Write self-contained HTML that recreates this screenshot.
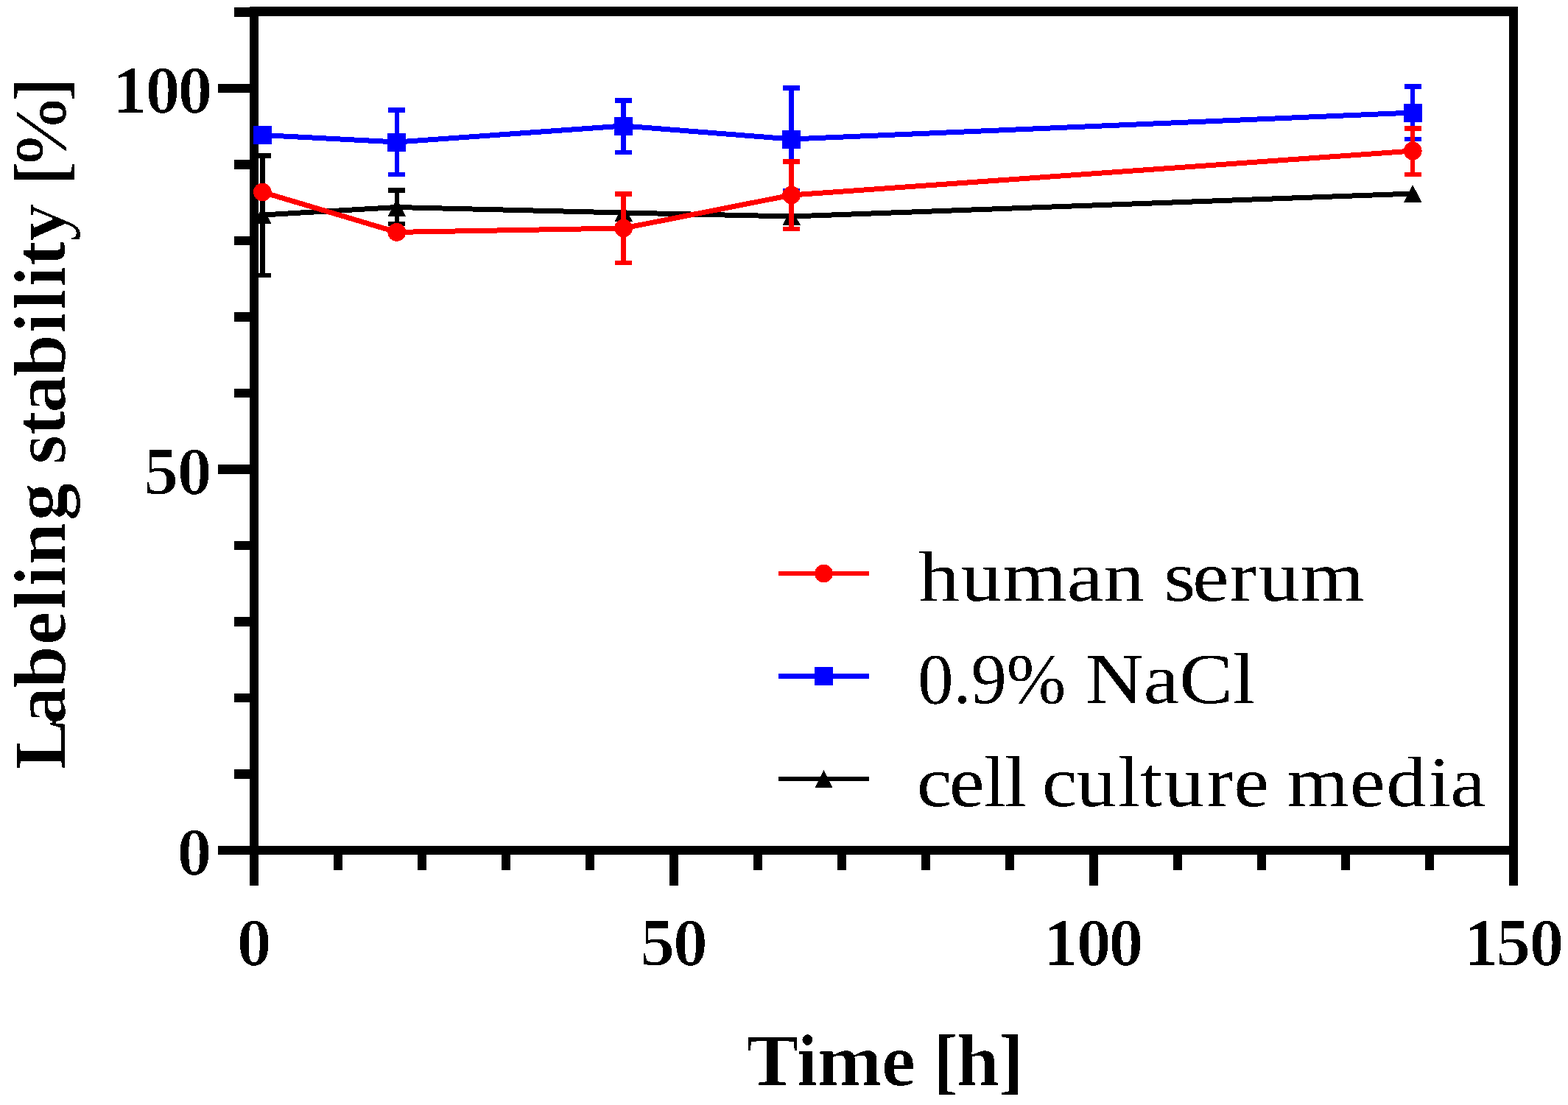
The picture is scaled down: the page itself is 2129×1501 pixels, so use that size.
<!DOCTYPE html>
<html lang="en"><head><meta charset="utf-8"><title>Labeling stability over time</title>
<style>
html,body{margin:0;padding:0;background:#fff;}
body{width:2129px;height:1501px;overflow:hidden;}
svg{display:block;}
text{font-family:"Liberation Serif","DejaVu Serif",serif;fill:#000;}
.b{font-weight:bold;}
</style></head><body>
<svg width="2129" height="1501" viewBox="0 0 2129 1501">
<defs>
<filter id="eh" x="-5%" y="-30%" width="110%" height="160%" color-interpolation-filters="sRGB"><feMorphology operator="erode" radius="1 0"/><feComponentTransfer><feFuncA type="discrete" tableValues="0 1"/></feComponentTransfer></filter>
<filter id="ev" x="-30%" y="-5%" width="160%" height="110%" color-interpolation-filters="sRGB"><feMorphology operator="erode" radius="0 1"/><feComponentTransfer><feFuncA type="discrete" tableValues="0 1"/></feComponentTransfer></filter>
<filter id="th" x="-5%" y="-30%" width="110%" height="160%" color-interpolation-filters="sRGB"><feComponentTransfer><feFuncA type="discrete" tableValues="0 1"/></feComponentTransfer></filter>
</defs>
<rect x="0" y="0" width="2129" height="1501" fill="#fff"/>
<g fill="#000" shape-rendering="crispEdges">
<rect x="339" y="9" width="12" height="1194"/>
<rect x="2049" y="9" width="12" height="1194"/>
<rect x="339" y="9" width="1722" height="13"/>
<rect x="296" y="1149" width="1765" height="12"/>
<rect x="318" y="1045" width="22" height="13"/>
<rect x="318" y="942" width="22" height="12"/>
<rect x="318" y="838" width="22" height="13"/>
<rect x="318" y="735" width="22" height="12"/>
<rect x="296" y="631" width="44" height="13"/>
<rect x="318" y="528" width="22" height="12"/>
<rect x="318" y="424" width="22" height="13"/>
<rect x="318" y="321" width="22" height="12"/>
<rect x="318" y="217" width="22" height="13"/>
<rect x="296" y="114" width="44" height="12"/>
<rect x="318" y="10" width="22" height="13"/>
<rect x="453" y="1160" width="12" height="22"/>
<rect x="567" y="1160" width="12" height="22"/>
<rect x="681" y="1160" width="12" height="22"/>
<rect x="795" y="1160" width="12" height="22"/>
<rect x="909" y="1160" width="12" height="43"/>
<rect x="1023" y="1160" width="12" height="22"/>
<rect x="1137" y="1160" width="12" height="22"/>
<rect x="1251" y="1160" width="12" height="22"/>
<rect x="1365" y="1160" width="12" height="22"/>
<rect x="1479" y="1160" width="12" height="43"/>
<rect x="1593" y="1160" width="12" height="22"/>
<rect x="1707" y="1160" width="12" height="22"/>
<rect x="1821" y="1160" width="12" height="22"/>
<rect x="1935" y="1160" width="12" height="22"/>
</g>
<g>
<g fill="#000" shape-rendering="crispEdges"><rect x="353" y="208.0" width="7" height="169.0"/><rect x="345" y="208.0" width="23" height="6.5"/><rect x="345" y="370.5" width="23" height="6.5"/></g>
<g fill="#000" shape-rendering="crispEdges"><rect x="536" y="255.0" width="6" height="52.0"/><rect x="527" y="255.0" width="23" height="6.5"/><rect x="527" y="300.5" width="23" height="6.5"/></g>
<polyline points="356.4,292.0 538.8,281.5 846.6,289.0 1074.6,294.0 1918.2,263.0" fill="none" stroke="#000" stroke-width="7.0" stroke-linejoin="round" shape-rendering="crispEdges"/>
<polygon points="356.4,280.0 368.6,304.0 344.2,304.0" fill="#000" shape-rendering="crispEdges"/>
<polygon points="538.8,269.5 551.0,293.5 526.6,293.5" fill="#000" shape-rendering="crispEdges"/>
<polygon points="846.6,277.0 858.8,301.0 834.4,301.0" fill="#000" shape-rendering="crispEdges"/>
<polygon points="1074.6,282.0 1086.8,306.0 1062.4,306.0" fill="#000" shape-rendering="crispEdges"/>
<polygon points="1918.2,251.0 1930.4,275.0 1906.0,275.0" fill="#000" shape-rendering="crispEdges"/>
</g>
<g>
<g fill="#0000ff" shape-rendering="crispEdges"><rect x="536" y="146.0" width="6" height="94.0"/><rect x="527" y="146.0" width="23" height="6.5"/><rect x="527" y="233.5" width="23" height="6.5"/></g>
<g fill="#0000ff" shape-rendering="crispEdges"><rect x="843" y="133.0" width="7" height="77.0"/><rect x="835" y="133.0" width="23" height="6.5"/><rect x="835" y="203.5" width="23" height="6.5"/></g>
<g fill="#0000ff" shape-rendering="crispEdges"><rect x="1071" y="116.0" width="7" height="146.0"/><rect x="1063" y="116.0" width="23" height="6.5"/><rect x="1063" y="255.5" width="23" height="6.5"/></g>
<g fill="#0000ff" shape-rendering="crispEdges"><rect x="1915" y="114.0" width="6" height="78.0"/><rect x="1907" y="114.0" width="23" height="6.5"/><rect x="1907" y="185.5" width="23" height="6.5"/></g>
<polyline points="356.4,183.5 538.8,193.0 846.6,171.0 1074.6,189.0 1918.2,153.0" fill="none" stroke="#0000ff" stroke-width="7.0" stroke-linejoin="round" shape-rendering="crispEdges"/>
<rect x="343.9" y="171.0" width="25" height="25" fill="#0000ff" shape-rendering="crispEdges"/>
<rect x="526.3" y="180.5" width="25" height="25" fill="#0000ff" shape-rendering="crispEdges"/>
<rect x="834.1" y="158.5" width="25" height="25" fill="#0000ff" shape-rendering="crispEdges"/>
<rect x="1062.1" y="176.5" width="25" height="25" fill="#0000ff" shape-rendering="crispEdges"/>
<rect x="1905.7" y="140.5" width="25" height="25" fill="#0000ff" shape-rendering="crispEdges"/>
</g>
<g>
<g fill="#ff0000" shape-rendering="crispEdges"><rect x="843" y="260.0" width="7" height="100.0"/><rect x="835" y="260.0" width="23" height="6.5"/><rect x="835" y="353.5" width="23" height="6.5"/></g>
<g fill="#ff0000" shape-rendering="crispEdges"><rect x="1071" y="216.0" width="7" height="98.0"/><rect x="1063" y="216.0" width="23" height="6.5"/><rect x="1063" y="307.5" width="23" height="6.5"/></g>
<g fill="#ff0000" shape-rendering="crispEdges"><rect x="1915" y="171.0" width="6" height="69.0"/><rect x="1907" y="171.0" width="23" height="6.5"/><rect x="1907" y="233.5" width="23" height="6.5"/></g>
<polyline points="356.4,261.0 538.8,315.4 846.6,310.0 1074.6,265.0 1918.2,205.0" fill="none" stroke="#ff0000" stroke-width="7.0" stroke-linejoin="round" shape-rendering="crispEdges"/>
<circle cx="356.4" cy="261.0" r="12.4" fill="#ff0000" shape-rendering="crispEdges"/>
<circle cx="538.8" cy="315.4" r="12.4" fill="#ff0000" shape-rendering="crispEdges"/>
<circle cx="846.6" cy="310.0" r="12.4" fill="#ff0000" shape-rendering="crispEdges"/>
<circle cx="1074.6" cy="265.0" r="12.4" fill="#ff0000" shape-rendering="crispEdges"/>
<circle cx="1918.2" cy="205.0" r="12.4" fill="#ff0000" shape-rendering="crispEdges"/>
</g>
<rect x="1057" y="775.8" width="123" height="6.5" fill="#ff0000" shape-rendering="crispEdges"/>
<circle cx="1118.5" cy="779.0" r="12.4" fill="#ff0000" shape-rendering="crispEdges"/>
<rect x="1057" y="915.2" width="123" height="6.5" fill="#0000ff" shape-rendering="crispEdges"/>
<rect x="1106.0" y="906.0" width="25" height="25" fill="#0000ff" shape-rendering="crispEdges"/>
<rect x="1057" y="1054.8" width="123" height="6.5" fill="#000" shape-rendering="crispEdges"/>
<polygon points="1118.5,1046.0 1130.7,1070.0 1106.3,1070.0" fill="#000" shape-rendering="crispEdges"/>
<text transform="translate(0.0,815.5) scale(1.1400,1)" x="1094.0 1144.4 1194.3 1270.7 1314.0 1363.0 1385.9 1420.2 1464.2 1499.1 1548.9" y="0" font-size="98.0" filter="url(#th)">human serum</text>
<text y="955.0" font-size="98.0" filter="url(#th)"><tspan x="1246.2" textLength="201.1" lengthAdjust="spacingAndGlyphs">0.9%</tspan> <tspan x="1473.7" textLength="230.7" lengthAdjust="spacingAndGlyphs">NaCl</tspan></text>
<text transform="translate(0.0,1094.5) scale(1.1000,1)" x="1131.6 1171.6 1214.5 1240.3 1267.6 1286.1 1328.6 1380.0 1407.2 1437.1 1489.5 1523.0 1566.5 1588.6 1666.2 1711.1 1763.3 1790.2" y="0" font-size="98.0" filter="url(#th)">cell culture media</text>
<text transform="translate(0.0,153.3) scale(1.0410,1)" x="146.2 189.2 231.5" y="0" font-size="92.0" class="b" filter="url(#eh)">100</text>
<text transform="translate(0.0,671.0) scale(1.0410,1)" x="187.2 230.7" y="0" font-size="92.0" class="b" filter="url(#eh)">50</text>
<text transform="translate(0.0,1188.4) scale(1.0410,1)" x="230.5" y="0" font-size="92.0" class="b" filter="url(#eh)">0</text>
<text transform="translate(0.0,1311.2) scale(1.0410,1)" x="308.5" y="0" font-size="92.0" class="b" filter="url(#eh)">0</text>
<text transform="translate(0.0,1311.2) scale(1.0410,1)" x="834.5 877.6" y="0" font-size="92.0" class="b" filter="url(#eh)">50</text>
<text transform="translate(0.0,1311.2) scale(1.0410,1)" x="1360.3 1403.8 1445.7" y="0" font-size="92.0" class="b" filter="url(#eh)">100</text>
<text transform="translate(0.0,1311.2) scale(1.0410,1)" x="1908.8 1950.9 1994.3" y="0" font-size="92.0" class="b" filter="url(#eh)">150</text>
<text transform="translate(0.0,1473.8) scale(1.0700,1)" x="946.9 1010.5 1037.0 1118.1 1162.3 1183.3 1213.2 1266.3" y="0" font-size="99.5" class="b" filter="url(#eh)">Time [h]</text>
<g filter="url(#ev)"><text transform="translate(88.2,1037.0) rotate(-90) scale(1.0500,1)" x="-8.7 50.2 97.2 152.7 198.9 228.5 256.6 313.6 363.4 386.7 423.5 453.0 500.0 556.2 586.1 616.3 643.2 674.9 724.7 746.4 767.3 855.8" y="0" font-size="99.5" class="b">Labeling stability [%]</text></g>
</svg>
</body></html>
